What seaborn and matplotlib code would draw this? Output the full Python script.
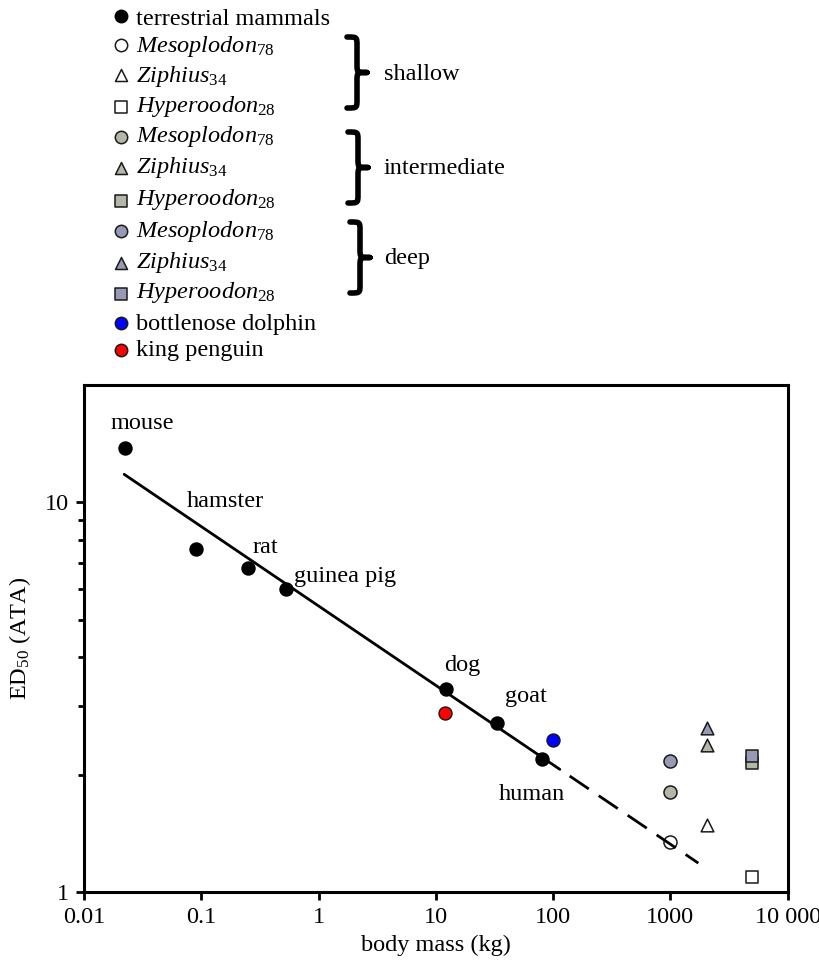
import numpy as np
import pandas as pd
import matplotlib
matplotlib.use("Agg")
import matplotlib.pyplot as plt
import seaborn as sns
from matplotlib.path import Path
from matplotlib.patches import PathPatch
from matplotlib.ticker import FixedLocator, NullLocator, NullFormatter

# ---------------- data ----------------
terr_names = ["mouse", "hamster", "rat", "guinea pig", "dog", "goat", "human"]
terr_mass = [0.0224, 0.091, 0.25, 0.525, 12.1, 33.4, 80.0]
terr_ed50 = [13.8, 7.6, 6.8, 6.0, 3.31, 2.72, 2.19]

penguin_mass = [11.9]
penguin_ed50 = [2.88]
dolphin_mass = [99.0]
dolphin_ed50 = [2.46]

genera = ["Mesoplodon", "Ziphius", "Hyperoodon"]
genus_n = [78, 34, 28]
genus_mass = [1000, 2060, 4950]
shallow_ed50 = [1.34, 1.49, 1.09]
intermediate_ed50 = [1.81, 2.38, 2.14]
deep_ed50 = [2.17, 2.63, 2.23]
depth_names = ["shallow", "intermediate", "deep"]

# allometric fit: log10(ED50) = intercept + slope * log10(mass)
fit_intercept = 0.734
fit_slope = -0.2038
fit_solid_range = [0.022, 114]
fit_dashed_range = [114, 1730]

x_ticks = [0.01, 0.1, 1, 10, 100, 1000, 10000]
x_tick_labels = ["0.01", "0.1", "1", "10", "100", "1000", "10 000"]
y_ticks = [1, 10]
y_tick_labels = ["1", "10"]
y_minor_ticks = [2, 3, 4, 5, 6, 7, 8, 9]

# ---------------- style ----------------
FS = 17.5
sns.set_style("ticks")
plt.rcParams.update({
    "font.family": ["Liberation Serif", "DejaVu Serif"],
    "mathtext.fontset": "custom",
    "mathtext.rm": "Liberation Serif",
    "mathtext.it": "Liberation Serif:italic",
    "mathtext.bf": "Liberation Serif:bold",
    "font.size": FS,
    "text.color": "black",
    "axes.labelcolor": "black",
    "xtick.color": "black",
    "ytick.color": "black",
})

W, H = 819, 960
fig = plt.figure(figsize=(W / 100, H / 100), dpi=100)
ax = fig.add_axes([84 / W, 68 / H, 703.7 / W, 507 / H])
ax.set_xscale("log")
ax.set_yscale("log")

depth_colors = ["white", "#b4b6a7", "#9899b4"]
genus_markers = ["o", "^", "s"]
genus_sizes = [88, 83, 70]
edge = "#1a1a1a"

# fit line
xs = np.geomspace(*fit_solid_range, 60)
sns.lineplot(x=xs, y=10 ** (fit_intercept + fit_slope * np.log10(xs)), ax=ax,
             color="black", linewidth=2.0, zorder=3, estimator=None, sort=False)
xd = np.geomspace(*fit_dashed_range, 60)
sns.lineplot(x=xd, y=10 ** (fit_intercept + fit_slope * np.log10(xd)), ax=ax,
             color="black", linewidth=2.0, zorder=3, estimator=None, sort=False,
             linestyle=(8.3, (8.3, 4.3)))

# terrestrial mammals
terr = pd.DataFrame({"name": terr_names, "mass": terr_mass, "ed50": terr_ed50})
sns.scatterplot(data=terr, x="mass", y="ed50", ax=ax, color="black",
                edgecolor="black", s=88, linewidth=1, zorder=4)
sns.scatterplot(x=penguin_mass, y=penguin_ed50, ax=ax, color="#ff0000",
                edgecolor=edge, s=88, linewidth=1, zorder=4)
sns.scatterplot(x=dolphin_mass, y=dolphin_ed50, ax=ax, color="#0000ff",
                edgecolor=edge, s=88, linewidth=1, zorder=4)

# beaked whales
for d, vals in enumerate([shallow_ed50, intermediate_ed50, deep_ed50]):
    for g in range(3):
        sns.scatterplot(x=[genus_mass[g]], y=[vals[g]], ax=ax,
                        marker=genus_markers[g], s=genus_sizes[g],
                        color=depth_colors[d], edgecolor=edge, linewidth=1.1,
                        zorder=2)

# point labels (offsets in pixels)
label_offsets = {"mouse": (17, 19), "hamster": (29, 42), "rat": (17, 15),
                 "guinea pig": (59, 7), "dog": (17, 18), "goat": (29, 21),
                 "human": (-10, -41)}
for n, m, v in zip(terr_names, terr_mass, terr_ed50):
    ax.annotate(n, (m, v), xytext=label_offsets[n], textcoords="offset pixels",
                ha="center", va="baseline", fontsize=FS)

# axes cosmetics
ax.set_xlim(0.01, 10000)
ax.set_ylim(1, 20)
ax.set_xticks(x_ticks, x_tick_labels)
ax.xaxis.set_minor_locator(NullLocator())
ax.set_yticks(y_ticks, y_tick_labels)
ax.yaxis.set_minor_locator(FixedLocator(y_minor_ticks))
ax.yaxis.set_minor_formatter(NullFormatter())
for sp in ax.spines.values():
    sp.set_visible(True)
    sp.set_linewidth(2.2)
    sp.set_color("black")
ax.tick_params(which="major", direction="out", length=5.5, width=2.0, pad=5,
               labelsize=FS, colors="black")
ax.tick_params(which="minor", direction="out", length=4, width=2.0)
ax.set_xlabel("body mass (kg)", fontsize=FS, labelpad=5)
ax.set_ylabel(r"ED$_{\mathrm{50}}$ (ATA)", fontsize=FS)
ax.yaxis.set_label_coords(-0.072, 0.5)

# ---------------- legend (manual) ----------------
lax = fig.add_axes([0, 0, 1, 1], facecolor="none")
lax.set_xlim(0, W)
lax.set_ylim(H, 0)
lax.axis("off")

entries = [("o", "black", "black", 88, "terrestrial mammals")]
for d in range(3):
    for g in range(3):
        entries.append((genus_markers[g], depth_colors[d], edge, genus_sizes[g],
                        rf"$\mathit{{{genera[g]}}}_{{\mathrm{{{genus_n[g]}}}}}$"))
entries.append(("o", "#0000ff", edge, 88, "bottlenose dolphin"))
entries.append(("o", "#ff0000", edge, 88, "king penguin"))

marker_y = [15.7, 45, 75, 107.3, 137.3, 168.3, 201, 231, 263.3, 294.3, 323.3, 350]
text_y = [25, 51.7, 81.7, 111.7, 141.7, 173.3, 205, 236.7, 268.3, 298.3, 330, 356]
for (mk, fc, ec, s, lab), my, ty in zip(entries, marker_y, text_y):
    lax.scatter([121], [my], marker=mk, s=s * 0.9, c=fc, edgecolors=ec,
                linewidths=1.1)
    lax.text(136, ty, lab, ha="left", va="baseline", fontsize=FS)


def brace(x0, y0, y1, w=20):
    xm = x0 + w * 0.5
    xt = x0 + w
    ym = (y0 + y1) / 2
    r = (y1 - y0) * 0.12
    verts = [(x0, y0), (xm, y0), (xm, y0), (xm, y0 + r),
             (xm, ym - r),
             (xm, ym), (xm, ym), (xt, ym),
             (xm, ym), (xm, ym), (xm, ym + r),
             (xm, y1 - r),
             (xm, y1), (xm, y1), (x0, y1)]
    codes = [Path.MOVETO, Path.CURVE4, Path.CURVE4, Path.CURVE4,
             Path.LINETO,
             Path.CURVE4, Path.CURVE4, Path.CURVE4,
             Path.CURVE4, Path.CURVE4, Path.CURVE4,
             Path.LINETO,
             Path.CURVE4, Path.CURVE4, Path.CURVE4]
    lax.add_patch(PathPatch(Path(verts, codes), facecolor="none",
                            edgecolor="black", linewidth=4.0,
                            capstyle="round", joinstyle="round"))


brace_spans = [(347, 37, 108), (348, 132, 203), (350, 222, 293)]
brace_label_y = [80, 174, 264]
for (bx, by0, by1), name, ly in zip(brace_spans, depth_names, brace_label_y):
    brace(bx, by0, by1)
    lax.text(384, ly, name, ha="left", va="baseline", fontsize=FS)

fig.savefig("out.png", dpi=100)
